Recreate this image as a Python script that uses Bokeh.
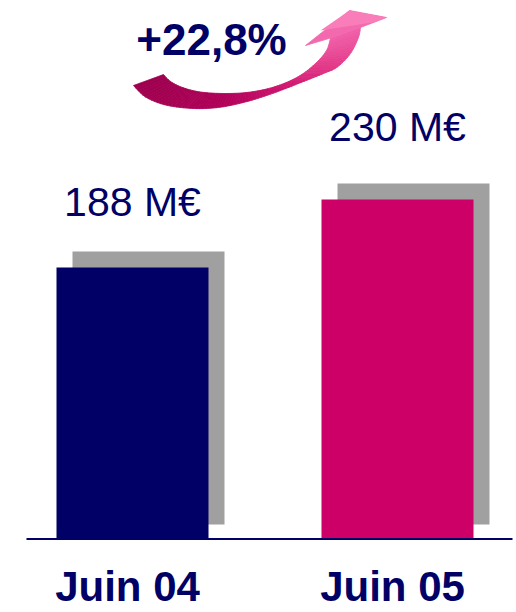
import numpy as np
from bokeh.plotting import figure
from bokeh.models import Range1d, ColumnDataSource
from bokeh.core.properties import value
from bokeh.embed import file_html
from bokeh.resources import INLINE

# ---------------- data ----------------
categories = ["Juin 04", "Juin 05"]
revenues = [188, 230]                 # M€
value_labels = ["188 M€", "230 M€"]
growth_label = "+22,8%"
bar_colors = ["#000066", "#CC0066"]

# ---------------- layout constants ----------------
W, H = 516, 612
X0_PX, X_STEP_PX = 132, 265           # pixel centre of first bar, spacing
BASE_PX, PX_PER_UNIT, BASE_VAL = 538, 1.619, 20.6
BAR_W_PX = 152
SH_DX, SH_DY_TOP, SH_DY_BOT = 16, 16, 14
LABEL_GAP_PX = [65, 72]
CAT_DROP_PX = 48
NAVY = "#000066"
FONT = "Liberation Sans"


def xu(px):
    return px / X_STEP_PX


def yu(px):
    return px / PX_PER_UNIT


p = figure(width=W, height=H, output_backend="svg", toolbar_location=None,
           x_range=Range1d(-X0_PX / X_STEP_PX, (W - X0_PX) / X_STEP_PX),
           y_range=Range1d(BASE_VAL - (H - BASE_PX) / PX_PER_UNIT,
                           BASE_VAL + BASE_PX / PX_PER_UNIT),
           x_axis_location=None, y_axis_location=None, min_border=0)
p.outline_line_color = None
p.grid.visible = False
p.background_fill_color = "white"
p.border_fill_color = "white"
# decorative pixel space for the growth arrow / baseline
p.extra_x_ranges = {"px": Range1d(0, W)}
p.extra_y_ranges = {"py": Range1d(H, 0)}

xs = list(range(len(categories)))
src = ColumnDataSource(dict(
    x=xs,
    xs=[x + xu(SH_DX) for x in xs],
    top=revenues,
    sh_top=[v + yu(SH_DY_TOP) for v in revenues],
    color=bar_colors,
    label=value_labels,
    label_y=[v + yu(g) for v, g in zip(revenues, LABEL_GAP_PX)],
    cat=categories,
    cat_y=[BASE_VAL - yu(CAT_DROP_PX)] * len(categories),
))

# shadows
p.vbar(x="xs", width=xu(BAR_W_PX), bottom=BASE_VAL + yu(SH_DY_BOT), top="sh_top",
       source=src, fill_color="#A0A0A0", line_color=None)
# bars
p.vbar(x="x", width=xu(BAR_W_PX), bottom=BASE_VAL, top="top", source=src,
       fill_color="color", line_color=None)

# baseline
p.segment(x0=[26], y0=[BASE_PX + 0.5], x1=[512], y1=[BASE_PX + 0.5],
          line_color=NAVY, line_width=2, x_range_name="px", y_range_name="py")

# value labels
p.text(x="x", y="label_y", text="label", source=src, text_align="center",
       text_baseline="alphabetic", text_font=value(FONT), text_font_size="41px",
       text_color=NAVY)
# category labels
p.text(x="x", y="cat_y", text="cat", source=src, text_align="center",
       text_baseline="alphabetic", text_font=value(FONT), text_font_size="42px",
       text_font_style="bold", text_color=NAVY, x_offset=-5)


# ---------------- growth arrow (decoration) ----------------
def catmull(P, k=12):
    P = np.asarray(P, float)
    Q = np.vstack([P[0], P, P[-1]])
    out = []
    for i in range(1, len(Q) - 2):
        p0, p1, p2, p3 = Q[i - 1], Q[i], Q[i + 1], Q[i + 2]
        for t in np.linspace(0, 1, k, endpoint=False):
            t2, t3 = t * t, t * t * t
            out.append(0.5 * ((2 * p1) + (-p0 + p2) * t +
                              (2 * p0 - 5 * p1 + 4 * p2 - p3) * t2 +
                              (-p0 + 3 * p1 - 3 * p2 + p3) * t3))
    out.append(P[-1])
    return np.array(out)


def resample(P, n):
    d = np.r_[0, np.cumsum(np.hypot(*np.diff(P, axis=0).T))]
    t = np.linspace(0, d[-1], n)
    return np.c_[np.interp(t, d, P[:, 0]), np.interp(t, d, P[:, 1])]


upper = [(163, 74), (170, 81), (182, 87), (200, 91.5), (225, 93), (250, 91.5),
         (275, 86), (298, 76), (315, 63), (326, 50), (330, 37.5)]
lower = [(133, 85), (145, 96.5), (165, 104.5), (192, 108), (218, 107),
         (245, 101.5), (272, 93), (298, 83), (323, 73), (337, 66.5), (350, 53),
         (358, 37), (360, 27)]
N = 80
U = resample(catmull(upper), N + 1)
L = resample(catmull(lower), N + 1)

stops_t = [0.0, 0.35, 0.65, 0.85, 1.0]
stops_c = [(0x9E, 0x00, 0x4E), (0xB0, 0x00, 0x58), (0xD0, 0x18, 0x70),
           (0xE5, 0x3C, 0x8C), (0xF0, 0x60, 0xA8)]


def col(t):
    r = [int(round(np.interp(t, stops_t, [c[j] for c in stops_c]))) for j in range(3)]
    return "#%02x%02x%02x" % tuple(r)


axs, ays, acol = [], [], []
for i in range(N):
    axs.append([U[i, 0], U[i + 1, 0], L[i + 1, 0], L[i, 0]])
    ays.append([U[i, 1], U[i + 1, 1], L[i + 1, 1], L[i, 1]])
    acol.append(col((i + 0.5) / N))
p.patches(axs, ays, fill_color=acol, line_color=acol, line_width=0.8,
          x_range_name="px", y_range_name="py")

head_x = [330, 305, 349, 386, 360]
head_y = [37.5, 45, 10, 17, 27]
p.patch(head_x, head_y, fill_color="#F26AAD", line_color="#F26AAD", line_width=0.8,
        x_range_name="px", y_range_name="py")
# lighter top of arrow head
p.patch([320, 349, 386, 372], [30, 10, 17, 22], fill_color="#F87DB8",
        line_color=None, x_range_name="px", y_range_name="py")

p.text(x=[211], y=[39], text=[growth_label], text_align="center",
       text_baseline="alphabetic", text_font=value(FONT), text_font_size="44px",
       text_font_style="bold", text_color=NAVY,
       x_range_name="px", y_range_name="py")

open("out.html", "w").write(file_html(p, INLINE))
